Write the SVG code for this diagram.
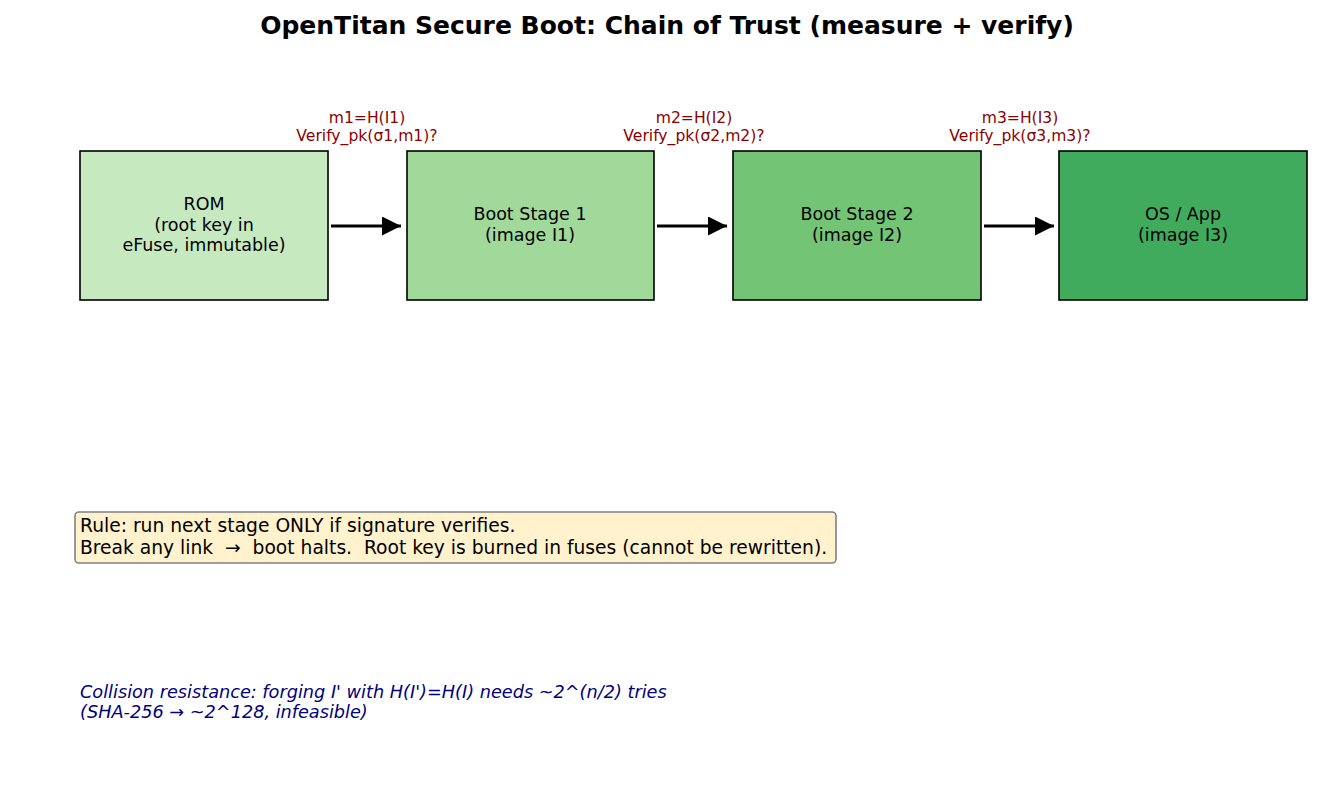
<svg xmlns="http://www.w3.org/2000/svg" width="1335" height="808" viewBox="0 0 1335 808">
<style>
text{font-family:"DejaVu Sans","Liberation Sans",sans-serif}
.node{stroke:#000;stroke-width:1.6}
.nt{font-size:17.5px;fill:#000;text-anchor:middle}
.lbl{font-size:15.6px;fill:#8b0000;text-anchor:middle}
.conn{stroke:#000;stroke-width:3;fill:none}
.rt{font-size:18.7px;white-space:pre}
.it{font-size:17.7px;font-style:italic;fill:#000080}
</style>
<defs>
<marker id="ah" markerWidth="20" markerHeight="20" refX="19" refY="9.5" orient="auto" markerUnits="userSpaceOnUse">
<path d="M0,0 L19,9.5 L0,19 z" fill="#000"/>
</marker>
</defs>
<rect width="1335" height="808" fill="#fff"/>
<text x="667" y="34" text-anchor="middle" font-size="25px" font-weight="bold">OpenTitan Secure Boot: Chain of Trust (measure + verify)</text>
<g id="rom">
<rect class="node" x="80" y="151" width="248" height="149" fill="#c7e9c0"/>
<text class="nt" x="204" y="210">ROM</text>
<text class="nt" x="204" y="231">(root key in</text>
<text class="nt" x="204" y="251">eFuse, immutable)</text>
</g>
<g id="stage1">
<rect class="node" x="407" y="151" width="247" height="149" fill="#a1d99b"/>
<text class="nt" x="530" y="220">Boot Stage 1</text>
<text class="nt" x="530" y="241">(image I1)</text>
</g>
<g id="stage2">
<rect class="node" x="733" y="151" width="248" height="149" fill="#74c476"/>
<text class="nt" x="857" y="220">Boot Stage 2</text>
<text class="nt" x="857" y="241">(image I2)</text>
</g>
<g id="os">
<rect class="node" x="1059" y="151" width="248" height="149" fill="#41ab5d"/>
<text class="nt" x="1183" y="220">OS / App</text>
<text class="nt" x="1183" y="241">(image I3)</text>
</g>
<g id="connectors">
<line class="conn" x1="331" y1="226" x2="401" y2="226" marker-end="url(#ah)"/>
<line class="conn" x1="657" y1="226" x2="727" y2="226" marker-end="url(#ah)"/>
<line class="conn" x1="984" y1="226" x2="1054" y2="226" marker-end="url(#ah)"/>
<text class="lbl" x="367" y="123">m1=H(I1)</text>
<text class="lbl" x="367" y="141">Verify_pk(σ1,m1)?</text>
<text class="lbl" x="694" y="123">m2=H(I2)</text>
<text class="lbl" x="694" y="141">Verify_pk(σ2,m2)?</text>
<text class="lbl" x="1020" y="123">m3=H(I3)</text>
<text class="lbl" x="1020" y="141">Verify_pk(σ3,m3)?</text>
</g>
<g id="rule">
<rect x="75" y="512" width="761" height="51" rx="4" fill="#fff2cc" stroke="#808080" stroke-width="1.6"/>
<text class="rt" x="80" y="532" xml:space="preserve">Rule: run next stage ONLY if signature verifies.</text>
<text class="rt" x="80" y="554" xml:space="preserve">Break any link  →  boot halts.  Root key is burned in fuses (cannot be rewritten).</text>
</g>
<g id="note">
<text class="it" x="80" y="698">Collision resistance: forging I' with H(I')=H(I) needs ~2^(n/2) tries</text>
<text class="it" x="80" y="718">(SHA-256 → ~2^128, infeasible)</text>
</g>
</svg>
